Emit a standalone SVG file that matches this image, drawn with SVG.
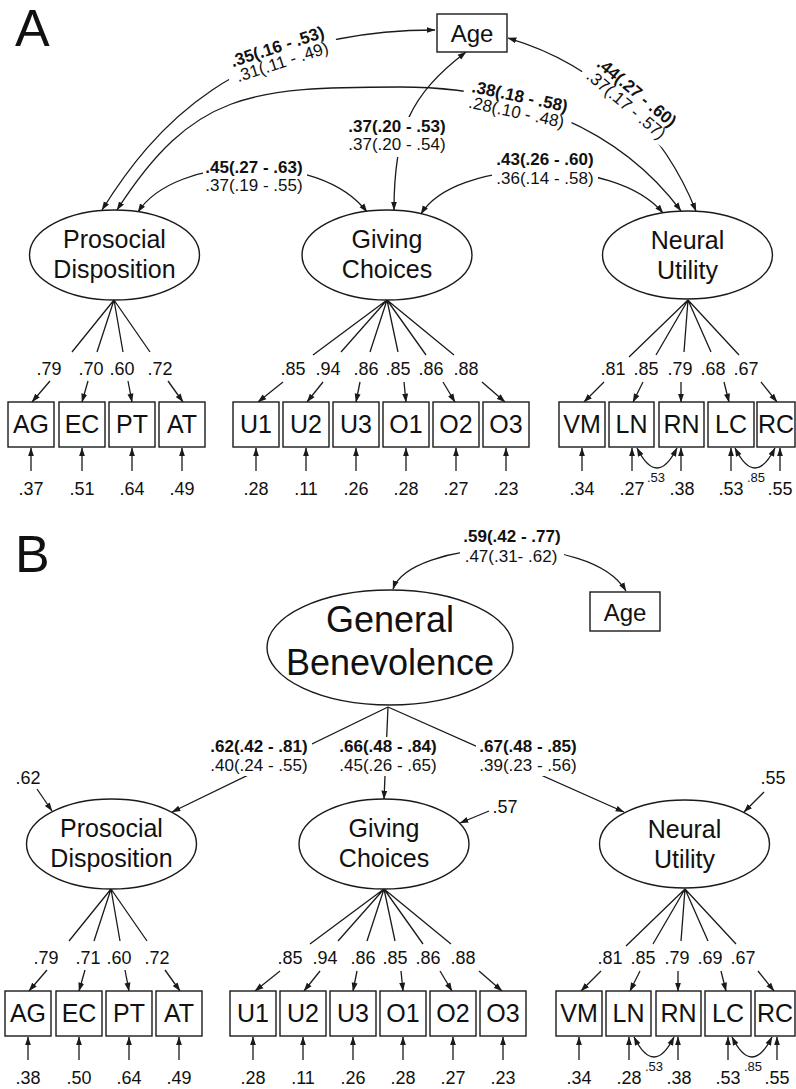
<svg xmlns="http://www.w3.org/2000/svg" width="796" height="1089" viewBox="0 0 796 1089">
<defs>
<style>
text{font-family:"Liberation Sans",Arial,Helvetica,sans-serif;fill:#111;text-anchor:middle}
.ln{stroke:#1a1a1a;stroke-width:1.3;fill:none}
.ar{marker-end:url(#ah)}
.ar2{marker-start:url(#ah);marker-end:url(#ah)}
.nd{fill:#fff;stroke:#1a1a1a;stroke-width:1.4}
.bg{fill:#fff;stroke:none}
.big{font-size:52px;text-anchor:start}
.t24{font-size:24px}
.t25{font-size:25px}
.el{font-size:25px}
.t35{font-size:36px}
.v{font-size:18px}
.ci{font-size:17px}
.b{font-weight:bold}
.sm{font-size:13px}
</style>
<marker id="ah" viewBox="0 0 10 8" refX="9.5" refY="4" markerWidth="9" markerHeight="7" markerUnits="userSpaceOnUse" orient="auto-start-reverse">
<path d="M0,0.6 L10,4 L0,7.4 z" fill="#1a1a1a"/>
</marker>
</defs>
<rect width="796" height="1089" fill="#fff"/>

<g id="connectors">
<!-- Panel A covariances -->
<path class="ln ar2" d="M435,30 C235,30 152,130 102,210"/>
<path class="ln ar2" d="M117,210 C193,92 250,87 400,87 C520,87 621,130 681,211"/>
<path class="ln ar2" d="M508,38 C604,66 666,136 696,211"/>
<path class="ln ar2" d="M138,212 C175,155 320,150 367,212"/>
<path class="ln ar2" d="M394,210 C394,130 410,95 466,52"/>
<path class="ln ar2" d="M421,214 C455,158 615,155 663,213"/>
<!-- Panel A loadings: Prosocial -->
<path class="ln" d="M114,300 L72,352 M114,300 L97,352 M114,300 L123,352 M114,300 L150,352"/>
<path class="ln ar" d="M50,381 L32,402"/>
<path class="ln ar" d="M88,381 L82,402"/>
<path class="ln ar" d="M128,381 L132,402"/>
<path class="ln ar" d="M168,381 L183,402"/>
<!-- Giving -->
<path class="ln" d="M387,300 L313,355 M387,300 L341,352 M387,300 L370,352 M387,300 L398,352 M387,300 L426,355 M387,300 L454,355"/>
<path class="ln ar" d="M283,382 L258,402"/>
<path class="ln ar" d="M323,382 L307,402"/>
<path class="ln ar" d="M360,382 L356,402"/>
<path class="ln ar" d="M404,382 L406,402"/>
<path class="ln ar" d="M443,382 L455,402"/>
<path class="ln ar" d="M482,382 L505,402"/>
<!-- Neural -->
<path class="ln" d="M688,300 L629,357 M688,300 L656,355 M688,300 L684,352 M688,300 L711,352 M688,300 L739,355"/>
<path class="ln ar" d="M604,382 L584,402"/>
<path class="ln ar" d="M643,382 L633,402"/>
<path class="ln ar" d="M681,382 L681,402"/>
<path class="ln ar" d="M724,382 L729,402"/>
<path class="ln ar" d="M761,382 L777,402"/>
<!-- Panel A errors -->
<path class="ln ar" d="M31,471 V448"/>
<path class="ln ar" d="M82,471 V448"/>
<path class="ln ar" d="M132,471 V448"/>
<path class="ln ar" d="M182,471 V448"/>
<path class="ln ar" d="M256,471 V448"/>
<path class="ln ar" d="M306,471 V448"/>
<path class="ln ar" d="M356,471 V448"/>
<path class="ln ar" d="M406,471 V448"/>
<path class="ln ar" d="M456,471 V448"/>
<path class="ln ar" d="M506,471 V448"/>
<path class="ln ar" d="M582,471 V448"/>
<path class="ln ar" d="M632,471 V448"/>
<path class="ln ar" d="M681,471 V448"/>
<path class="ln ar" d="M731,471 V448"/>
<path class="ln ar" d="M780,471 V448"/>
<path class="ln ar2" d="M637,448 Q657,488 677,448"/>
<path class="ln ar2" d="M735,448 Q755,488 775,448"/>

<!-- Panel B structural -->
<path class="ln ar2" d="M393,589 C410,540 590,530 626,591"/>
<path class="ln ar" d="M388,707 L172,812"/>
<path class="ln ar" d="M388,707 L384,799"/>
<path class="ln ar" d="M388,707 L624,812"/>
<path class="ln ar" d="M37,789 L52,811"/>
<path class="ln ar" d="M489,811 L460,823"/>
<path class="ln ar" d="M764,792 L744,812"/>
<!-- Panel B loadings: Prosocial -->
<path class="ln" d="M111,889 L69,941 M111,889 L94,941 M111,889 L120,941 M111,889 L147,941"/>
<path class="ln ar" d="M47,970 L29,991"/>
<path class="ln ar" d="M85,970 L79,991"/>
<path class="ln ar" d="M125,970 L129,991"/>
<path class="ln ar" d="M165,970 L180,991"/>
<!-- Giving -->
<path class="ln" d="M384,889 L310,944 M384,889 L338,941 M384,889 L367,941 M384,889 L395,941 M384,889 L423,944 M384,889 L451,944"/>
<path class="ln ar" d="M280,971 L255,991"/>
<path class="ln ar" d="M320,971 L304,991"/>
<path class="ln ar" d="M357,971 L353,991"/>
<path class="ln ar" d="M401,971 L403,991"/>
<path class="ln ar" d="M440,971 L452,991"/>
<path class="ln ar" d="M479,971 L502,991"/>
<!-- Neural -->
<path class="ln" d="M685,889 L626,946 M685,889 L653,944 M685,889 L681,941 M685,889 L708,941 M685,889 L736,944"/>
<path class="ln ar" d="M601,971 L581,991"/>
<path class="ln ar" d="M640,971 L630,991"/>
<path class="ln ar" d="M678,971 L678,991"/>
<path class="ln ar" d="M721,971 L726,991"/>
<path class="ln ar" d="M758,971 L774,991"/>
<!-- Panel B errors -->
<path class="ln ar" d="M28,1060 V1037"/>
<path class="ln ar" d="M79,1060 V1037"/>
<path class="ln ar" d="M129,1060 V1037"/>
<path class="ln ar" d="M179,1060 V1037"/>
<path class="ln ar" d="M253,1060 V1037"/>
<path class="ln ar" d="M303,1060 V1037"/>
<path class="ln ar" d="M353,1060 V1037"/>
<path class="ln ar" d="M403,1060 V1037"/>
<path class="ln ar" d="M453,1060 V1037"/>
<path class="ln ar" d="M503,1060 V1037"/>
<path class="ln ar" d="M579,1060 V1037"/>
<path class="ln ar" d="M629,1060 V1037"/>
<path class="ln ar" d="M678,1060 V1037"/>
<path class="ln ar" d="M728,1060 V1037"/>
<path class="ln ar" d="M777,1060 V1037"/>
<path class="ln ar2" d="M634,1037 Q654,1077 674,1037"/>
<path class="ln ar2" d="M732,1037 Q752,1077 772,1037"/>
</g>

<g id="connector-labels">
<g transform="translate(280,55) rotate(-18)"><rect class="bg" x="-56" y="-18" width="114" height="35"/><text class="ci b" y="-3">.35(.16 - .53)</text><text class="ci" y="13">.31(.11 - .49)</text></g>
<g transform="translate(518,105) rotate(12)"><rect class="bg" x="-56" y="-18" width="112" height="35"/><text class="ci b" y="-3">.38(.18 - .58)</text><text class="ci" y="13">.28(.10 - .48)</text></g>
<g transform="translate(631,99) rotate(40)"><rect class="bg" x="-55" y="-18" width="110" height="35"/><text class="ci b" y="-3">.44(.27 - .60)</text><text class="ci" y="13">.37(.17 - .57)</text></g>
<g><rect class="bg" x="203" y="157" width="104" height="40"/><text class="ci b" x="254" y="173">.45(.27 - .63)</text><text class="ci" x="254" y="191">.37(.19 - .55)</text></g>
<g><rect class="bg" x="346" y="117" width="102" height="40"/><text class="ci b" x="397" y="132">.37(.20 - .53)</text><text class="ci" x="397" y="150">.37(.20 - .54)</text></g>
<g><rect class="bg" x="492" y="150" width="106" height="40"/><text class="ci b" x="545" y="165">.43(.26 - .60)</text><text class="ci" x="545" y="184">.36(.14 - .58)</text></g>
<g><rect class="bg" x="460" y="527" width="104" height="40"/><text class="ci b" x="512" y="542">.59(.42 - .77)</text><text class="ci" x="511" y="562">.47(.31- .62)</text></g>
<g><rect class="bg" x="207" y="737" width="105" height="39"/><text class="ci b" x="259" y="752">.62(.42 - .81)</text><text class="ci" x="259" y="771">.40(.24 - .55)</text></g>
<g><rect class="bg" x="338" y="737" width="101" height="39"/><text class="ci b" x="388" y="752">.66(.48 - .84)</text><text class="ci" x="388" y="771">.45(.26 - .65)</text></g>
<g><rect class="bg" x="476" y="737" width="105" height="39"/><text class="ci b" x="528" y="752">.67(.48 - .85)</text><text class="ci" x="528" y="771">.39(.23 - .56)</text></g>
</g>

<g id="panel-A-nodes">
<g id="A-age"><rect class="nd" x="437" y="14" width="70" height="38"/><text class="t24" x="472" y="42">Age</text></g>
<g id="A-prosocial"><ellipse class="nd" cx="114.5" cy="255" rx="85" ry="45"/><text class="el" x="114.5" y="248">Prosocial</text><text class="el" x="114.5" y="278">Disposition</text></g>
<g id="A-giving"><ellipse class="nd" cx="387" cy="255" rx="85" ry="45"/><text class="el" x="387" y="248">Giving</text><text class="el" x="387" y="278">Choices</text></g>
<g id="A-neural"><ellipse class="nd" cx="687.5" cy="255" rx="85" ry="44"/><text class="el" x="687.5" y="249">Neural</text><text class="el" x="687.5" y="279">Utility</text></g>
<g id="A-AG"><rect class="nd" x="8" y="402" width="46" height="45"/><text class="t25" x="31" y="433">AG</text></g>
<g id="A-EC"><rect class="nd" x="59" y="402" width="46" height="45"/><text class="t25" x="82" y="433">EC</text></g>
<g id="A-PT"><rect class="nd" x="109" y="402" width="46" height="45"/><text class="t25" x="132" y="433">PT</text></g>
<g id="A-AT"><rect class="nd" x="159" y="402" width="46" height="45"/><text class="t25" x="182" y="433">AT</text></g>
<g id="A-U1"><rect class="nd" x="233" y="402" width="46" height="45"/><text class="t25" x="256" y="433">U1</text></g>
<g id="A-U2"><rect class="nd" x="283" y="402" width="46" height="45"/><text class="t25" x="306" y="433">U2</text></g>
<g id="A-U3"><rect class="nd" x="333" y="402" width="46" height="45"/><text class="t25" x="356" y="433">U3</text></g>
<g id="A-O1"><rect class="nd" x="383" y="402" width="46" height="45"/><text class="t25" x="406" y="433">O1</text></g>
<g id="A-O2"><rect class="nd" x="433" y="402" width="46" height="45"/><text class="t25" x="456" y="433">O2</text></g>
<g id="A-O3"><rect class="nd" x="483" y="402" width="46" height="45"/><text class="t25" x="506" y="433">O3</text></g>
<g id="A-VM"><rect class="nd" x="559" y="402" width="46" height="45"/><text class="t25" x="582" y="433">VM</text></g>
<g id="A-LN"><rect class="nd" x="609" y="402" width="45" height="45"/><text class="t25" x="631.5" y="433">LN</text></g>
<g id="A-RN"><rect class="nd" x="659" y="402" width="45" height="45"/><text class="t25" x="681.5" y="433">RN</text></g>
<g id="A-LC"><rect class="nd" x="708" y="402" width="46" height="45"/><text class="t25" x="731" y="433">LC</text></g>
<g id="A-RC"><rect class="nd" x="757" y="402" width="38" height="45"/><text class="t25" x="776" y="433">RC</text></g>
</g>

<g id="panel-B-nodes">
<g id="B-general"><ellipse class="nd" cx="390" cy="647.5" rx="123" ry="57.5"/><text class="t35" x="390" y="632">General</text><text class="t35" x="390" y="675">Benevolence</text></g>
<g id="B-age"><rect class="nd" x="590" y="592" width="70" height="39"/><text class="t24" x="625" y="621">Age</text></g>
<g id="B-prosocial"><ellipse class="nd" cx="111.5" cy="844" rx="85" ry="45"/><text class="el" x="111.5" y="837">Prosocial</text><text class="el" x="111.5" y="867">Disposition</text></g>
<g id="B-giving"><ellipse class="nd" cx="384" cy="844" rx="85" ry="45"/><text class="el" x="384" y="837">Giving</text><text class="el" x="384" y="867">Choices</text></g>
<g id="B-neural"><ellipse class="nd" cx="684.5" cy="844" rx="85" ry="44"/><text class="el" x="684.5" y="838">Neural</text><text class="el" x="684.5" y="868">Utility</text></g>
<g id="B-AG"><rect class="nd" x="5" y="991" width="46" height="45"/><text class="t25" x="28" y="1022">AG</text></g>
<g id="B-EC"><rect class="nd" x="56" y="991" width="46" height="45"/><text class="t25" x="79" y="1022">EC</text></g>
<g id="B-PT"><rect class="nd" x="106" y="991" width="46" height="45"/><text class="t25" x="129" y="1022">PT</text></g>
<g id="B-AT"><rect class="nd" x="156" y="991" width="46" height="45"/><text class="t25" x="179" y="1022">AT</text></g>
<g id="B-U1"><rect class="nd" x="230" y="991" width="46" height="45"/><text class="t25" x="253" y="1022">U1</text></g>
<g id="B-U2"><rect class="nd" x="280" y="991" width="46" height="45"/><text class="t25" x="303" y="1022">U2</text></g>
<g id="B-U3"><rect class="nd" x="330" y="991" width="46" height="45"/><text class="t25" x="353" y="1022">U3</text></g>
<g id="B-O1"><rect class="nd" x="380" y="991" width="46" height="45"/><text class="t25" x="403" y="1022">O1</text></g>
<g id="B-O2"><rect class="nd" x="430" y="991" width="46" height="45"/><text class="t25" x="453" y="1022">O2</text></g>
<g id="B-O3"><rect class="nd" x="480" y="991" width="46" height="45"/><text class="t25" x="503" y="1022">O3</text></g>
<g id="B-VM"><rect class="nd" x="556" y="991" width="46" height="45"/><text class="t25" x="579" y="1022">VM</text></g>
<g id="B-LN"><rect class="nd" x="606" y="991" width="45" height="45"/><text class="t25" x="628.5" y="1022">LN</text></g>
<g id="B-RN"><rect class="nd" x="656" y="991" width="45" height="45"/><text class="t25" x="678.5" y="1022">RN</text></g>
<g id="B-LC"><rect class="nd" x="705" y="991" width="46" height="45"/><text class="t25" x="728" y="1022">LC</text></g>
<g id="B-RC"><rect class="nd" x="755" y="991" width="40" height="45"/><text class="t25" x="775" y="1022">RC</text></g>
</g>

<g id="values">
<text class="v" x="49" y="375">.79</text><text class="v" x="91" y="375">.70</text><text class="v" x="122" y="375">.60</text><text class="v" x="160" y="375">.72</text>
<text class="v" x="293" y="375">.85</text><text class="v" x="328" y="375">.94</text><text class="v" x="366" y="375">.86</text><text class="v" x="398" y="375">.85</text><text class="v" x="431" y="375">.86</text><text class="v" x="466" y="375">.88</text>
<text class="v" x="613" y="375">.81</text><text class="v" x="646" y="375">.85</text><text class="v" x="680" y="375">.79</text><text class="v" x="713" y="375">.68</text><text class="v" x="746" y="375">.67</text>
<text class="v" x="31" y="495">.37</text><text class="v" x="82" y="495">.51</text><text class="v" x="132" y="495">.64</text><text class="v" x="182" y="495">.49</text>
<text class="v" x="256" y="495">.28</text><text class="v" x="306" y="495">.11</text><text class="v" x="356" y="495">.26</text><text class="v" x="406" y="495">.28</text><text class="v" x="456" y="495">.27</text><text class="v" x="506" y="495">.23</text>
<text class="v" x="582" y="495">.34</text><text class="v" x="632" y="495">.27</text><text class="v" x="682" y="495">.38</text><text class="v" x="731" y="495">.53</text><text class="v" x="780" y="495">.55</text>
<text class="sm" x="656" y="482">.53</text><text class="sm" x="756" y="482">.85</text>

<text class="v" x="28" y="784">.62</text><text class="v" x="505" y="813">.57</text><text class="v" x="773" y="784">.55</text>
<text class="v" x="46" y="964">.79</text><text class="v" x="88" y="964">.71</text><text class="v" x="119" y="964">.60</text><text class="v" x="157" y="964">.72</text>
<text class="v" x="290" y="964">.85</text><text class="v" x="325" y="964">.94</text><text class="v" x="363" y="964">.86</text><text class="v" x="395" y="964">.85</text><text class="v" x="428" y="964">.86</text><text class="v" x="463" y="964">.88</text>
<text class="v" x="610" y="964">.81</text><text class="v" x="643" y="964">.85</text><text class="v" x="677" y="964">.79</text><text class="v" x="710" y="964">.69</text><text class="v" x="743" y="964">.67</text>
<text class="v" x="28" y="1084">.38</text><text class="v" x="79" y="1084">.50</text><text class="v" x="129" y="1084">.64</text><text class="v" x="179" y="1084">.49</text>
<text class="v" x="253" y="1084">.28</text><text class="v" x="303" y="1084">.11</text><text class="v" x="353" y="1084">.26</text><text class="v" x="403" y="1084">.28</text><text class="v" x="453" y="1084">.27</text><text class="v" x="503" y="1084">.23</text>
<text class="v" x="579" y="1084">.34</text><text class="v" x="629" y="1084">.28</text><text class="v" x="679" y="1084">.38</text><text class="v" x="728" y="1084">.53</text><text class="v" x="777" y="1084">.55</text>
<text class="sm" x="654" y="1071">.53</text><text class="sm" x="753" y="1071">.85</text>
</g>

<text class="big" x="15" y="46">A</text>
<text class="big" x="15" y="572">B</text>
</svg>
